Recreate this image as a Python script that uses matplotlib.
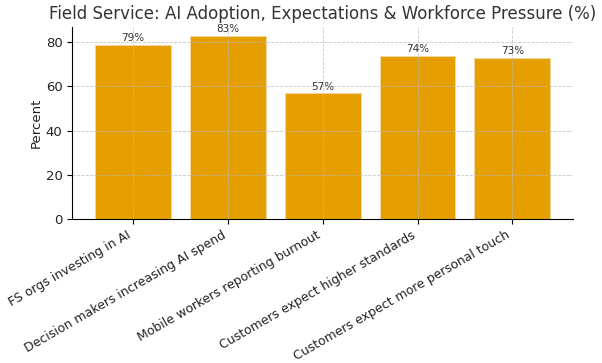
import matplotlib.pyplot as plt

# Survey figures
categories = [
    "FS orgs investing in AI",
    "Decision makers increasing AI spend",
    "Mobile workers reporting burnout",
    "Customers expect higher standards",
    "Customers expect more personal touch",
]
percents = [79, 83, 57, 74, 73]

fig, ax = plt.subplots(figsize=(6.02, 3.63), dpi=100)
bars = ax.bar(categories, percents, width=0.8, color="#E69F00",
              edgecolor="#F5D9A0", linewidth=0.6)

for bar, p in zip(bars, percents):
    ax.text(bar.get_x() + bar.get_width() / 2, bar.get_height() + 0.6,
            f"{p}%", ha="center", va="bottom", fontsize=7.5, color="#333333")

ax.set_ylim(0, 87)
ax.set_ylabel("Percent", fontsize=9.5, color="#222222", labelpad=2)
ax.set_title("Field Service: AI Adoption, Expectations & Workforce Pressure (%)",
             fontsize=12, color="#333333")
ax.grid(True, linestyle="--", color="#BBBBBB", linewidth=0.6, alpha=0.8)
ax.spines["top"].set_visible(False)
ax.spines["right"].set_visible(False)
plt.setp(ax.get_xticklabels(), rotation=30, ha="right", fontsize=9, color="#222222")
ax.tick_params(axis="y", labelsize=9.5, labelcolor="#222222")

fig.subplots_adjust(left=0.12, right=0.952, top=0.926, bottom=0.397)
fig.savefig("out.png")
